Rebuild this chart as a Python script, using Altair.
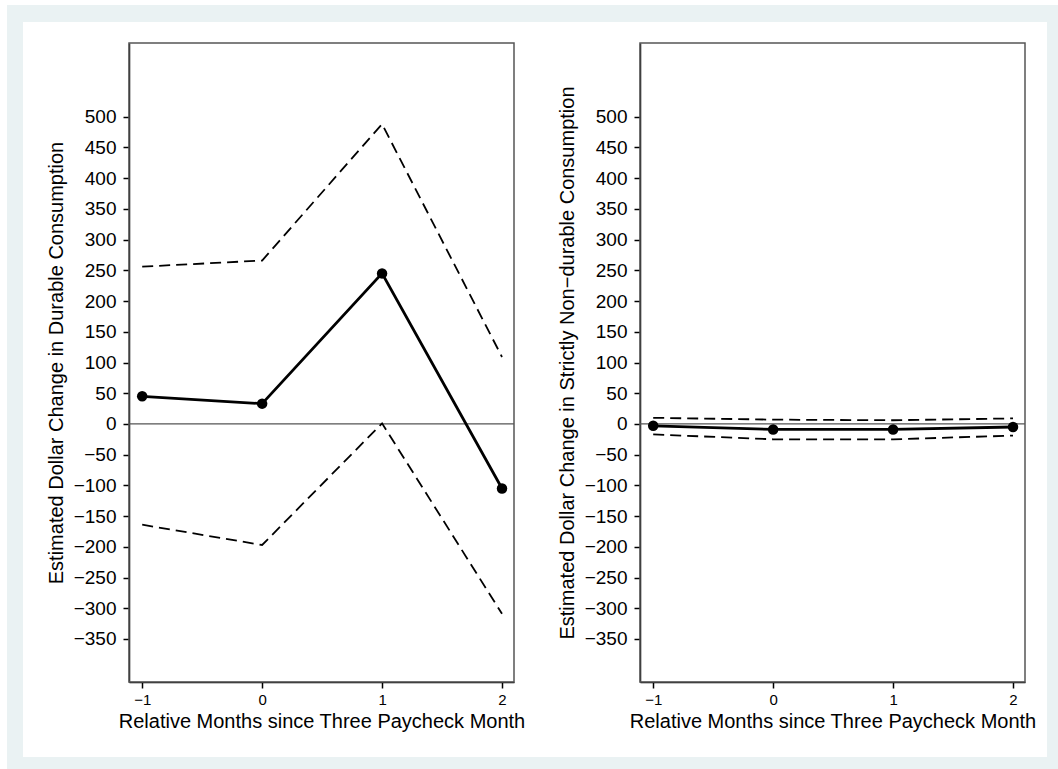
import altair as alt
import pandas as pd

# Relative month index
months = [-1, 0, 1, 2]

# Durable consumption: point estimates and 95% confidence band
durable_est = [45, 33, 245, -105]
durable_hi = [256, 266, 488, 109]
durable_lo = [-164, -197, 1, -309]

# Strictly non-durable consumption: point estimates and 95% confidence band
nondur_est = [-3, -9, -9, -5]
nondur_hi = [10, 7, 6, 9]
nondur_lo = [-17, -25, -25, -19]

Y_TICKS = list(range(-350, 501, 50))
X_TITLE = "Relative Months since Three Paycheck Month"
TITLE_DURABLE = "Estimated Dollar Change in Durable Consumption"
TITLE_NONDUR = "Estimated Dollar Change in Strictly Non\u2212durable Consumption"

FONT = "Liberation Sans"
PANEL_W = 385
PANEL_H = 639
OUTER_BG = "#EAF2F3"
DASH = [11, 6]


def panel(est, hi, lo, ytitle):
    df = pd.DataFrame({"month": months, "est": est, "hi": hi, "lo": lo})
    zero_df = pd.DataFrame({"zero": [0]})
    one = pd.DataFrame({"k": [0]})

    x = alt.X(
        "month:Q",
        title=X_TITLE,
        scale=alt.Scale(domain=[-1.11, 2.1], nice=False, zero=False),
        axis=alt.Axis(values=months, format="d", titleBaseline="alphabetic", titleY=45),
    )

    def y(field):
        return alt.Y(
            f"{field}:Q",
            title=ytitle,
            scale=alt.Scale(domain=[-420, 620], nice=False, zero=False),
            axis=alt.Axis(values=Y_TICKS, format="d", titleBaseline="alphabetic", titleX=-67),
        )

    zero = alt.Chart(zero_df).mark_rule(color="#555555", strokeWidth=1.3).encode(y=y("zero"))
    band_hi = alt.Chart(df).mark_line(color="black", strokeWidth=1.8, strokeDash=DASH).encode(x=x, y=y("hi"))
    band_lo = alt.Chart(df).mark_line(color="black", strokeWidth=1.8, strokeDash=DASH).encode(x=x, y=y("lo"))
    line = alt.Chart(df).mark_line(color="black", strokeWidth=2.8).encode(x=x, y=y("est"))
    dots = alt.Chart(df).mark_circle(color="black", opacity=1, size=110).encode(x=x, y=y("est"))
    frame = alt.Chart(one).mark_rect(fillOpacity=0, stroke="#555555", strokeWidth=1.5).encode(
        x=alt.value(0), x2=alt.value("width"), y=alt.value(0), y2=alt.value("height")
    )
    return alt.layer(zero, band_hi, band_lo, line, dots, frame).properties(width=PANEL_W, height=PANEL_H)


# Tinted outer region with a white inset, drawn first so both panels sit on top
one_row = pd.DataFrame({"k": [0]})
backdrop = alt.layer(
    alt.Chart(one_row).mark_rect(color=OUTER_BG).encode(
        x=alt.value(-122), x2=alt.value(929), y=alt.value(-27), y2=alt.value(737)
    ),
    alt.Chart(one_row).mark_rect(color="white").encode(
        x=alt.value(-106), x2=alt.value(918), y=alt.value(-10), y2=alt.value(725)
    ),
).properties(width=1, height=1)

left = panel(durable_est, durable_hi, durable_lo, TITLE_DURABLE)
right = panel(nondur_est, nondur_hi, nondur_lo, TITLE_NONDUR)

panels = alt.hconcat(left, right, spacing=126, bounds="flush")

chart = (
    alt.vconcat(backdrop, panels, spacing=10, bounds="flush")
    .properties(padding={"left": 7, "top": 5, "right": 0, "bottom": 0}, background="white")
    .configure_view(strokeWidth=0)
    .configure_axis(
        labelFont=FONT,
        titleFont=FONT,
        labelColor="black",
        titleColor="black",
        titleFontWeight="normal",
        domainColor="black",
        tickColor="black",
        domainWidth=1.5,
        tickWidth=1.5,
        tickSize=6,
        grid=False,
    )
    .configure_axisY(labelFontSize=19, labelPadding=7, titleFontSize=20)
    .configure_axisX(labelFontSize=15, labelPadding=4, titleFontSize=20)
)

chart.save("out.html", embed_options={"renderer": "svg", "actions": False})
